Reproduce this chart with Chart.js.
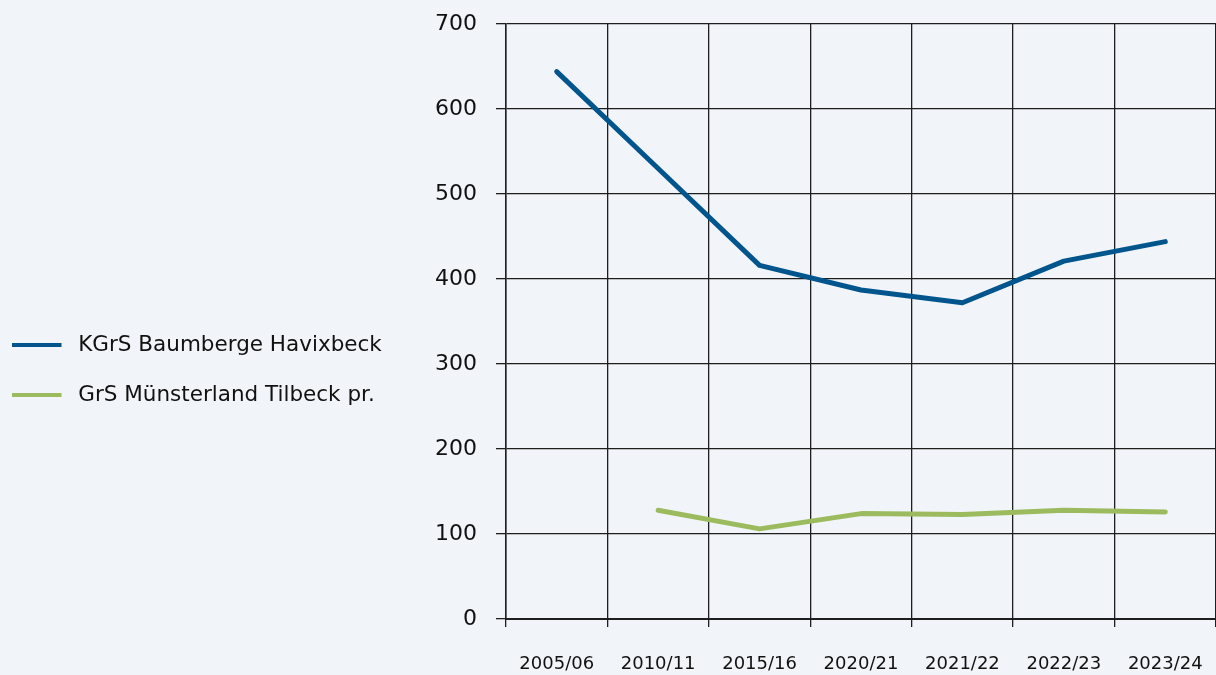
<!DOCTYPE html>
<html>
<head>
<meta charset="utf-8">
<script src="https://cdn.jsdelivr.net/npm/chart.js@4.4.1/dist/chart.umd.min.js"></script>
<style>
  html, body { margin: 0; padding: 0; background: #f1f5f9; }
  #wrap { width: 1216px; height: 675px; position: relative; }
</style>
</head>
<body>
<div id="wrap"><canvas id="c" width="1216" height="675"></canvas></div>
<script>
const categories = ['2005/06', '2010/11', '2015/16', '2020/21', '2021/22', '2022/23', '2023/24'];
const seriesNames = ['KGrS Baumberge Havixbeck', 'GrS Münsterland Tilbeck pr.'];
const havixbeck = [644, 530, 416, 387, 372, 421, 444];
const tilbeck = [null, 128, 106, 124, 123, 128, 126];
const yTicks = [0, 100, 200, 300, 400, 500, 600, 700];

const BLUE = '#00558d';
const GREEN = '#9bbb5e';
const GRID = '#1e1e1e';

function swatch(color) {
  const c = document.createElement('canvas');
  c.width = 56; c.height = 6;
  const g = c.getContext('2d');
  g.fillStyle = color;
  g.fillRect(0, 1, 50, 4);
  return c;
}

const ctx = document.getElementById('c').getContext('2d');
new Chart(ctx, {
  type: 'line',
  data: {
    labels: categories,
    datasets: [
      { label: seriesNames[0], data: havixbeck, borderColor: BLUE, backgroundColor: BLUE,
        borderWidth: 5, pointRadius: 0, tension: 0, borderCapStyle: 'round', borderJoinStyle: 'round',
        pointStyle: swatch(BLUE) },
      { label: seriesNames[1], data: tilbeck, borderColor: GREEN, backgroundColor: GREEN,
        borderWidth: 5, pointRadius: 0, tension: 0, borderCapStyle: 'round', borderJoinStyle: 'round',
        pointStyle: swatch(GREEN) }
    ]
  },
  options: {
    responsive: false,
    animation: false,
    devicePixelRatio: 1,
    layout: { padding: { left: -17, top: 24, right: 0, bottom: 0 } },
    plugins: {
      tooltip: { enabled: false },
      legend: {
        position: 'left',
        align: 'center',
        maxWidth: 440,
        title: { display: true, text: '', font: { size: 12 }, padding: { top: 26.6, bottom: 0 } },
        labels: {
          usePointStyle: true,
          pointStyleWidth: 56,
          padding: 28.5,
          color: '#111',
          font: { family: 'DejaVu Sans', size: 21.5 }
        }
      }
    },
    scales: {
      x: {
        offset: true,
        grid: { offset: true, color: GRID, lineWidth: 1.3, tickLength: 8, drawTicks: true },
        border: { color: GRID, width: 2 },
        ticks: { color: '#111', padding: 27, maxRotation: 0, autoSkip: false,
                 font: { family: 'DejaVu Sans', size: 18 } },
        afterFit(s) { s.height = 56; s.paddingLeft = 0; s.paddingRight = 0; }
      },
      y: {
        min: 0, max: 700,
        afterBuildTicks(s) { s.ticks = yTicks.map(v => ({ value: v })); },
        grid: { color: GRID, lineWidth: 1.3, tickLength: 10 },
        border: { color: GRID, width: 1.5 },
        ticks: { color: '#111', padding: 19, font: { family: 'DejaVu Sans', size: 22 } },
        afterFit(s) {
          const lw = (s.chart.legend && s.chart.legend.width) ? s.chart.legend.width : 400;
          s.width = 506 + 17 - lw;
          s.paddingTop = 12; s.paddingBottom = 0;
        }
      }
    }
  }
});
</script>
</body>
</html>
